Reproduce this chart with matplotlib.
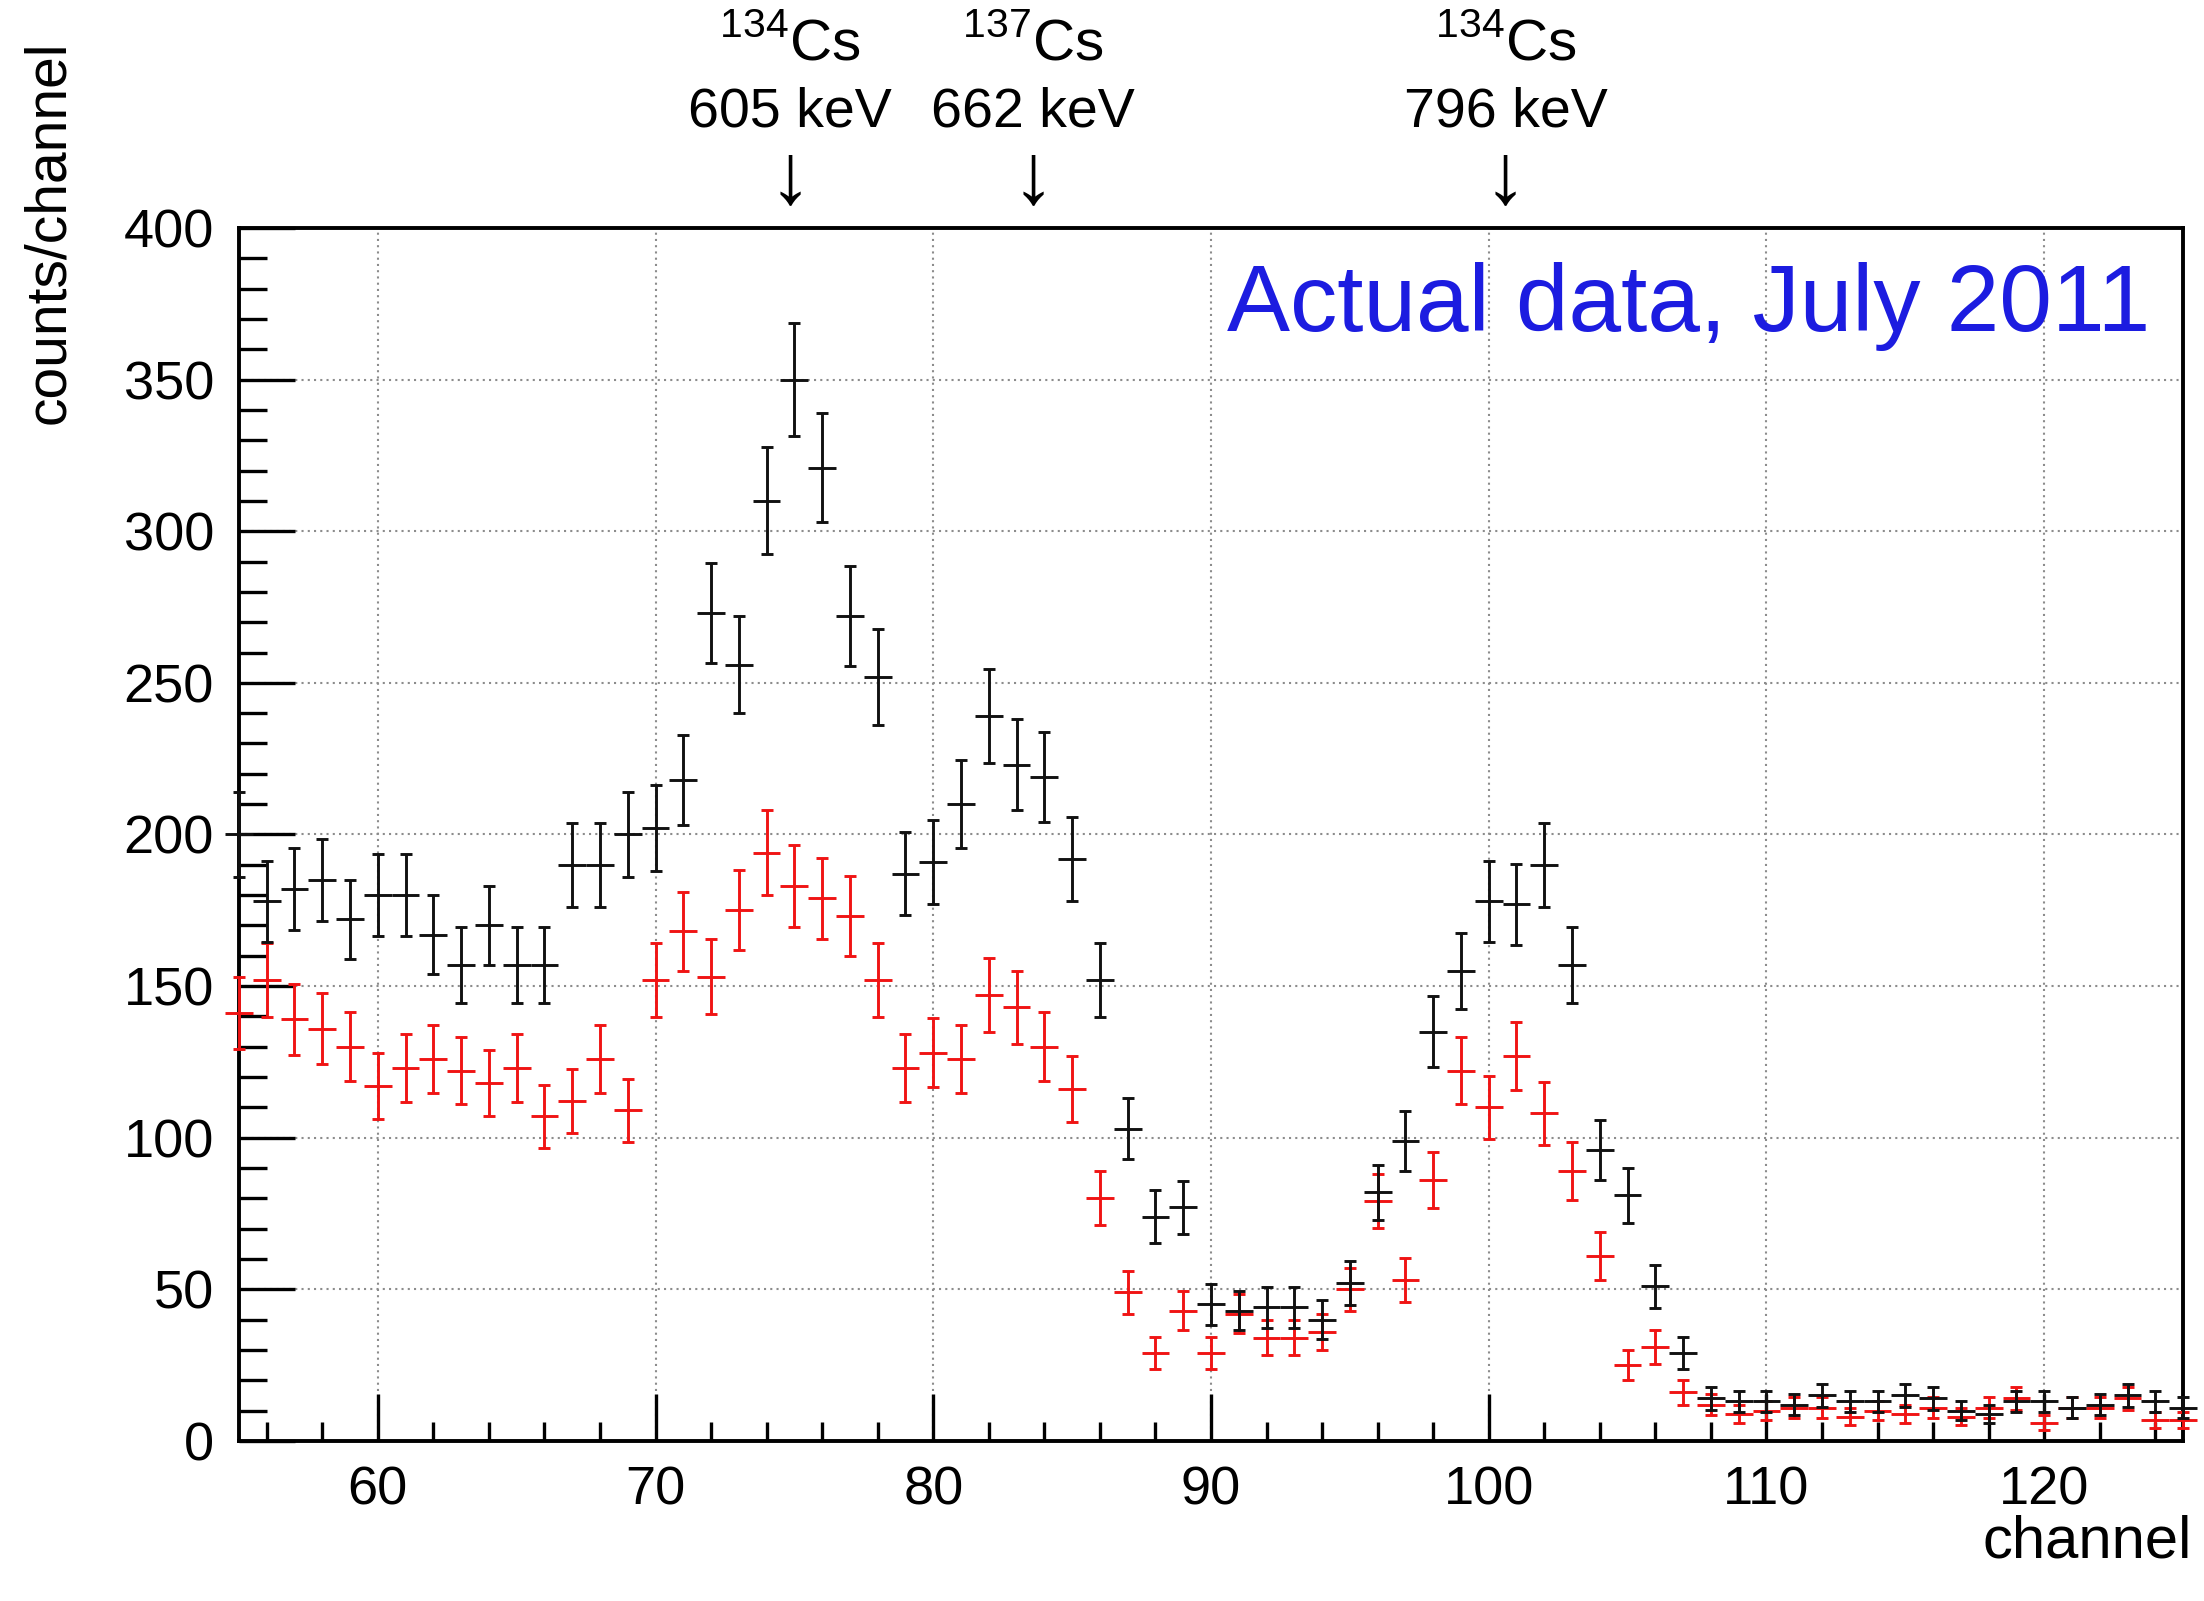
import numpy as np
import matplotlib
matplotlib.use("Agg")
import matplotlib.pyplot as plt
from matplotlib import transforms
from matplotlib.ticker import MultipleLocator

plt.rcParams["font.family"] = ["Liberation Sans", "DejaVu Sans"]
plt.rcParams["mathtext.fontset"] = "custom"
plt.rcParams["mathtext.rm"] = "Liberation Sans"

# Spectrum: counts per channel, one bin per channel 55..125
channels = np.arange(55, 126)
counts_black = [200, 178, 182, 185, 172, 180, 180, 167, 157, 170,
                157, 157, 190, 190, 200, 202, 218, 273, 256, 310,
                350, 321, 272, 252, 187, 191, 210, 239, 223, 219,
                192, 152, 103, 74, 77, 45, 43, 44, 44, 40,
                52, 82, 99, 135, 155, 178, 177, 190, 157, 96,
                81, 51, 29, 14, 13, 13, 12, 15, 13, 13,
                15, 14, 10, 9, 13, 13, 11, 12, 15, 13, 11]
counts_red = [141, 152, 139, 136, 130, 117, 123, 126, 122, 118,
              123, 107, 112, 126, 109, 152, 168, 153, 175, 194,
              183, 179, 173, 152, 123, 128, 126, 147, 143, 130,
              116, 80, 49, 29, 43, 29, 42, 34, 34, 36,
              50, 79, 53, 86, 122, 110, 127, 108, 89, 61,
              25, 31, 16, 12, 9, 10, 11, 11, 8, 10,
              9, 11, 8, 11, 14, 6, 11, 11, 14, 7, 7]

# Gamma lines marked above the frame
line_iso = ["134", "137", "134"]
line_kev = ["605 keV", "662 keV", "796 keV"]
line_chan = [74.85, 83.6, 100.6]

fig = plt.figure(figsize=(22.04, 16.01), dpi=100)
ax = fig.add_axes([0.1084, 0.1, 0.8821, 0.7576])


def draw_hist(y, color):
    y = np.asarray(y, dtype=float)
    err = np.sqrt(y)
    ax.errorbar(channels, y, yerr=err, fmt="none", ecolor=color,
                elinewidth=2.1, capsize=4.5, capthick=2.1, clip_on=False, zorder=3)
    ax.errorbar(channels, y, xerr=0.5, fmt="none", ecolor=color,
                elinewidth=2.1, capsize=0, clip_on=False, zorder=3)


draw_hist(counts_red, "#f01414")
draw_hist(counts_black, "#111111")

ax.set_xlim(55, 125)
ax.set_ylim(0, 400)
ax.xaxis.set_major_locator(MultipleLocator(10))
ax.xaxis.set_minor_locator(MultipleLocator(2))
ax.yaxis.set_major_locator(MultipleLocator(50))
ax.yaxis.set_minor_locator(MultipleLocator(10))
ax.tick_params(axis="both", which="both", direction="in", width=2.4,
               labelsize=39, top=False, right=False)
ax.tick_params(axis="x", which="major", length=34, pad=18)
ax.tick_params(axis="x", which="minor", length=14)
ax.tick_params(axis="y", which="major", length=40, pad=18)
ax.tick_params(axis="y", which="minor", length=20)
for s in ax.spines.values():
    s.set_linewidth(2.8)
ax.grid(True, which="major", color="#8c8c8c", linestyle=(0, (1, 2)), linewidth=1.5)
ax.set_axisbelow(True)

ax.text(0.983, 0.935, "Actual data, July 2011", transform=ax.transAxes,
        ha="right", va="center", fontsize=68, color="#1c1ce0")

fig.text(49 / 2204, 1 - 40 / 1601, "counts/channel", rotation=90,
         ha="center", va="top", fontsize=41)
fig.text(2192 / 2204, 1 - 1542 / 1601, "channel", ha="right", va="center",
         fontsize=43)

trans = transforms.blended_transform_factory(ax.transData, fig.transFigure)
for iso, kev, ch in zip(line_iso, line_kev, line_chan):
    ax.text(ch, 0.972, r"$^{%s}\mathrm{Cs}$" % iso, transform=trans,
            ha="center", va="center", fontsize=42, clip_on=False)
    ax.text(ch, 0.930, kev, transform=trans, ha="center", va="center",
            fontsize=40, clip_on=False)
    ax.text(ch, 0.8876, "\u2193", transform=trans, ha="center", va="center",
            fontsize=62, clip_on=False)

fig.savefig("out.png", dpi=100)
